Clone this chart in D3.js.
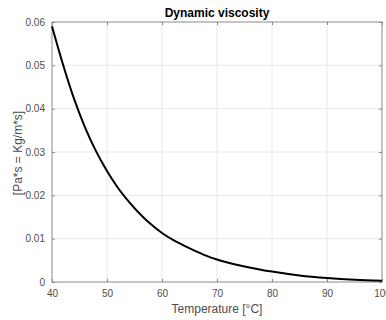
<!doctype html>
<html>
<head>
<meta charset="UTF-8">
<title>Dynamic viscosity</title>
<script src="https://d3js.org/d3.v7.min.js"></script>
<style>
  body { margin: 0; background: #fff; }
  text { font-family: "Liberation Sans", Arial, sans-serif; }
</style>
</head>
<body>
<svg id="chart" width="386" height="320"></svg>
<script>
// values
var temps = [40, 42, 44, 46, 48, 50, 52, 54, 56, 58, 60, 62, 64, 66, 68, 70, 75, 80, 85, 90, 95, 100];
var visc  = [0.0590, 0.0502, 0.0423, 0.0357, 0.0302, 0.0256, 0.0217, 0.0185, 0.0157, 0.0133,
             0.0113, 0.0097, 0.0084, 0.0072, 0.0061, 0.0052, 0.0036, 0.0024, 0.0015, 0.0009,
             0.0005, 0.0003];
var xTicks = [40, 50, 60, 70, 80, 90, 100];
var yTicks = [0, 0.01, 0.02, 0.03, 0.04, 0.05, 0.06];

var m = {left: 52, right: 382, top: 22, bottom: 282};
var svg = d3.select("#chart");

var x = d3.scaleLinear().domain([40, 100]).range([m.left, m.right]);
var y = d3.scaleLinear().domain([0, 0.06]).range([m.bottom, m.top]);

var axisCol = "#8a8a8a", textCol = "#4d4d4d";

// grid
svg.append("g").selectAll("line").data(xTicks.slice(1, -1)).enter().append("line")
  .attr("x1", function(d){ return x(d); }).attr("x2", function(d){ return x(d); })
  .attr("y1", m.top).attr("y2", m.bottom)
  .attr("stroke", "#e8e8e8").attr("stroke-width", 1);
svg.append("g").selectAll("line").data(yTicks.slice(1, -1)).enter().append("line")
  .attr("y1", function(d){ return y(d); }).attr("y2", function(d){ return y(d); })
  .attr("x1", m.left).attr("x2", m.right)
  .attr("stroke", "#e8e8e8").attr("stroke-width", 1);

// axes (ticks inside, like matlab)
function styleAxis(g) {
  g.select(".domain").remove();
  g.selectAll("line").attr("stroke", axisCol);
  g.selectAll("text").attr("fill", textCol).style("font-size", "10px");
}
svg.append("g").attr("transform", "translate(0," + m.bottom + ")")
  .call(d3.axisBottom(x).tickValues(xTicks).tickSizeInner(-3).tickPadding(8).tickFormat(d3.format("d")))
  .call(styleAxis);
svg.append("g").attr("transform", "translate(" + m.left + ",0)")
  .call(d3.axisLeft(y).tickValues(yTicks).tickSizeInner(-3).tickPadding(7).tickFormat(function(d){ return d === 0 ? "0" : d3.format(".2f")(d); }))
  .call(styleAxis);
svg.append("g").attr("transform", "translate(0," + m.top + ")")
  .call(d3.axisTop(x).tickValues(xTicks).tickSizeInner(-3).tickFormat(""))
  .call(styleAxis);
svg.append("g").attr("transform", "translate(" + m.right + ",0)")
  .call(d3.axisRight(y).tickValues(yTicks).tickSizeInner(-3).tickFormat(""))
  .call(styleAxis);

// box
svg.append("rect")
  .attr("x", m.left).attr("y", m.top)
  .attr("width", m.right - m.left).attr("height", m.bottom - m.top)
  .attr("fill", "none").attr("stroke", axisCol).attr("stroke-width", 1);

// curve
var line = d3.line()
  .x(function(d, i){ return x(temps[i]); })
  .y(function(d){ return y(d); })
  .curve(d3.curveMonotoneX);
svg.append("path").datum(visc)
  .attr("d", line)
  .attr("fill", "none").attr("stroke", "#000").attr("stroke-width", 2);

// labels
svg.append("text").attr("x", 217).attr("y", 17).attr("text-anchor", "middle")
  .style("font-size", "12px").style("font-weight", "bold").attr("fill", "#000")
  .text("Dynamic viscosity");
svg.append("text").attr("x", 217).attr("y", 313).attr("text-anchor", "middle")
  .style("font-size", "12px").attr("fill", textCol)
  .text("Temperature [°C]");
svg.append("text").attr("transform", "translate(22,153) rotate(-90)").attr("text-anchor", "middle")
  .style("font-size", "12px").attr("fill", textCol)
  .text("[Pa*s = Kg/m*s]");
</script>
</body>
</html>
